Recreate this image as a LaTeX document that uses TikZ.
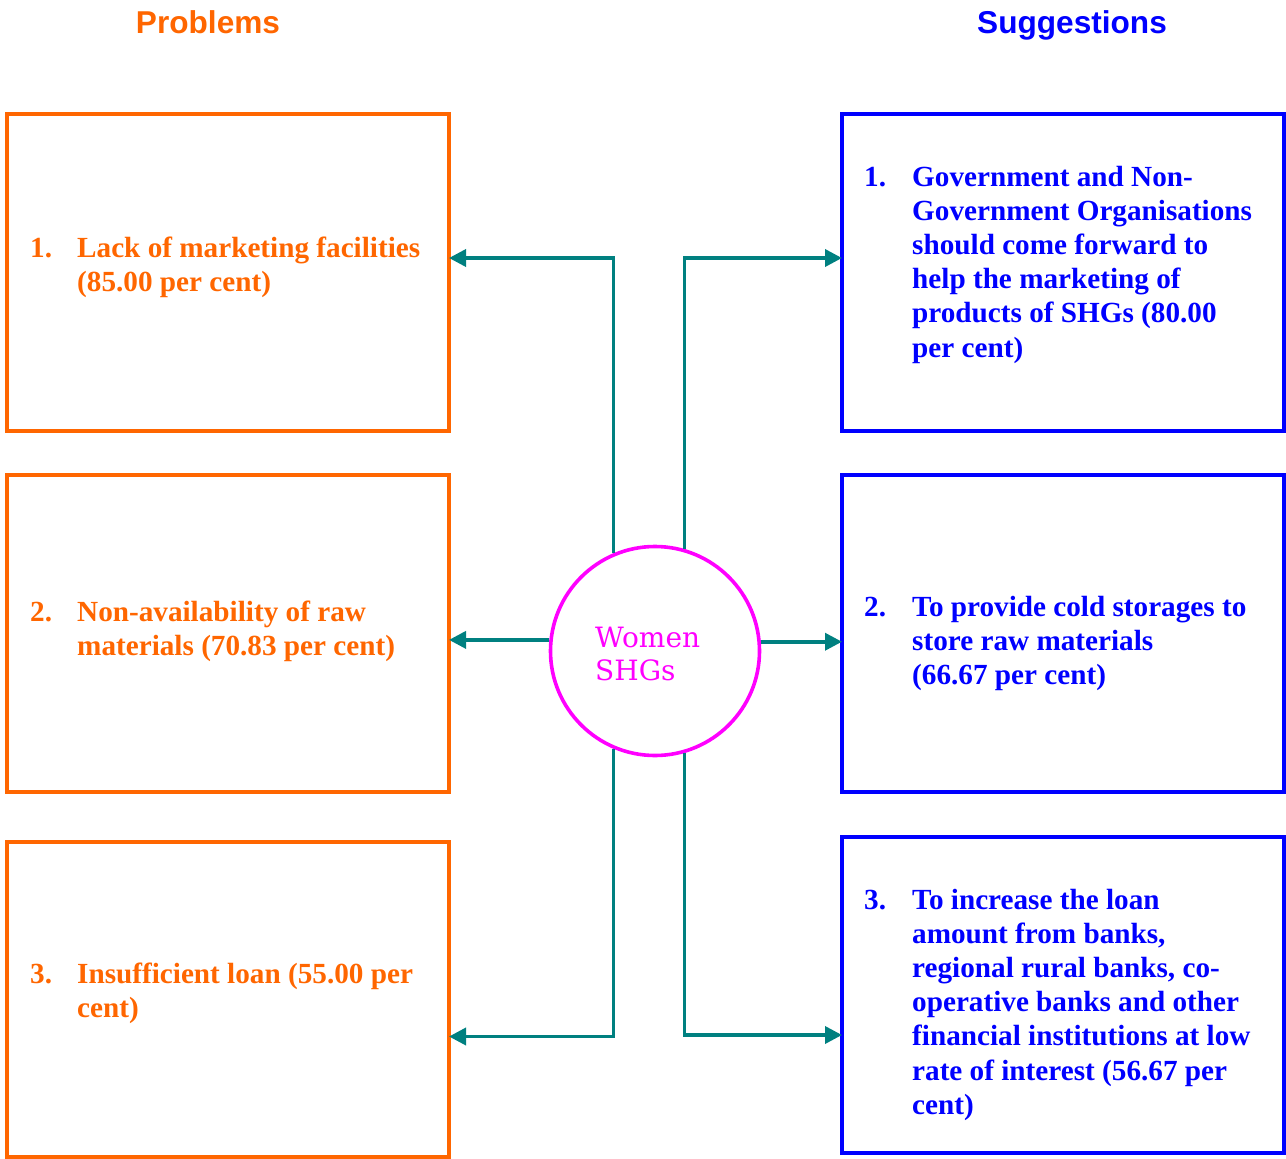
\documentclass[tikz,border=0pt]{standalone}
\usepackage{fontspec}
\setmainfont{Liberation Serif}
\newfontfamily\titlefont{Liberation Sans}
\newfontfamily\circfont{DejaVu Serif}
\usetikzlibrary{arrows.meta}
\definecolor{porange}{HTML}{FF6600}
\definecolor{sblue}{HTML}{0000FF}
\definecolor{cmag}{HTML}{FF00FF}
\definecolor{lteal}{HTML}{008080}
\begin{document}
\begin{tikzpicture}[x=1pt,y=-1pt,
  probbox/.style={draw=porange, line width=3.6pt, minimum width=442pt, minimum height=317pt, inner sep=0pt, outer sep=0pt, anchor=north west},
  suggbox/.style={draw=sblue, line width=3.6pt, minimum width=442pt, minimum height=317pt, inner sep=0pt, outer sep=0pt, anchor=north west},
  conn/.style={draw=lteal, line width=3.6pt, -{Triangle[length=17pt,width=17pt]}},
  boxtext/.style={anchor=base west, inner sep=0pt, font=\bfseries\fontsize{29.2}{34.2}\selectfont},
  ptext/.style={boxtext, text=porange},
  stext/.style={boxtext, text=sblue},
  titletext/.style={anchor=base, font=\titlefont\bfseries\fontsize{31.6}{36}\selectfont, inner sep=0pt}
]
\useasboundingbox (0,0) rectangle (1286,1159);

% titles
\node[titletext, text=porange] (tp) at (208,34) {Problems};
\node[titletext, text=sblue] (ts) at (1072,34) {Suggestions};

% boxes
\node[probbox] (p1) at (7,114) {};
\node[probbox] (p2) at (7,475) {};
\node[probbox, minimum height=315pt] (p3) at (7,842) {};
\node[suggbox] (s1) at (842,114) {};
\node[suggbox] (s2) at (842,475) {};
\node[suggbox, minimum height=316pt] (s3) at (842,837) {};

% texts
\node[ptext] (pt1) at (30,257) {\begin{tabular}[t]{@{}p{47pt}@{}l@{}}1. & Lack of marketing facilities\\ & (85.00 per cent)\end{tabular}};
\node[ptext] (pt2) at (30,621) {\begin{tabular}[t]{@{}p{47pt}@{}l@{}}2. & Non-availability of raw\\ & materials (70.83 per cent)\end{tabular}};
\node[ptext] (pt3) at (30,983) {\begin{tabular}[t]{@{}p{47pt}@{}l@{}}3. & Insufficient loan (55.00 per\\ & cent)\end{tabular}};

\node[stext] (st1) at (864,186) {\begin{tabular}[t]{@{}p{48pt}@{}l@{}}1. & Government and Non-\\ & Government Organisations\\ & should come forward to\\ & help the marketing of\\ & products of SHGs (80.00\\ & per cent)\end{tabular}};
\node[stext] (st2) at (864,616) {\begin{tabular}[t]{@{}p{48pt}@{}l@{}}2. & To provide cold storages to\\ & store raw materials\\ & (66.67 per cent)\end{tabular}};
\node[stext] (st3) at (864,909) {\begin{tabular}[t]{@{}p{48pt}@{}l@{}}3. & To increase the loan\\ & amount from banks,\\ & regional rural banks, co-\\ & operative banks and other\\ & financial institutions at low\\ & rate of interest (56.67 per\\ & cent)\end{tabular}};

% centre circle
\node[circle, draw=cmag, line width=3.6pt, minimum size=209pt, inner sep=0pt] (c) at (655,651) {};
\node[anchor=base west, inner sep=0pt, text=cmag, font=\circfont\fontsize{28}{33}\selectfont] (ct) at (595,647) {\begin{tabular}[t]{@{}l@{}}Women\\SHGs\end{tabular}};

% connectors
\draw[conn] (c.113.9) |- ([yshift=14.5pt]p1.east);
\draw[conn] (c.74.1) |- ([yshift=14.5pt]s1.west);
\draw[conn] (c.174.6) -- (p2.east |- c.174.6);
\draw[conn] (c.5.4) -- (s2.west |- c.5.4);
\draw[conn] (c.-113.9) |- ([yshift=-37pt]p3.east);
\draw[conn] (c.-74.1) |- ([yshift=-40pt]s3.west);
\end{tikzpicture}
\end{document}
